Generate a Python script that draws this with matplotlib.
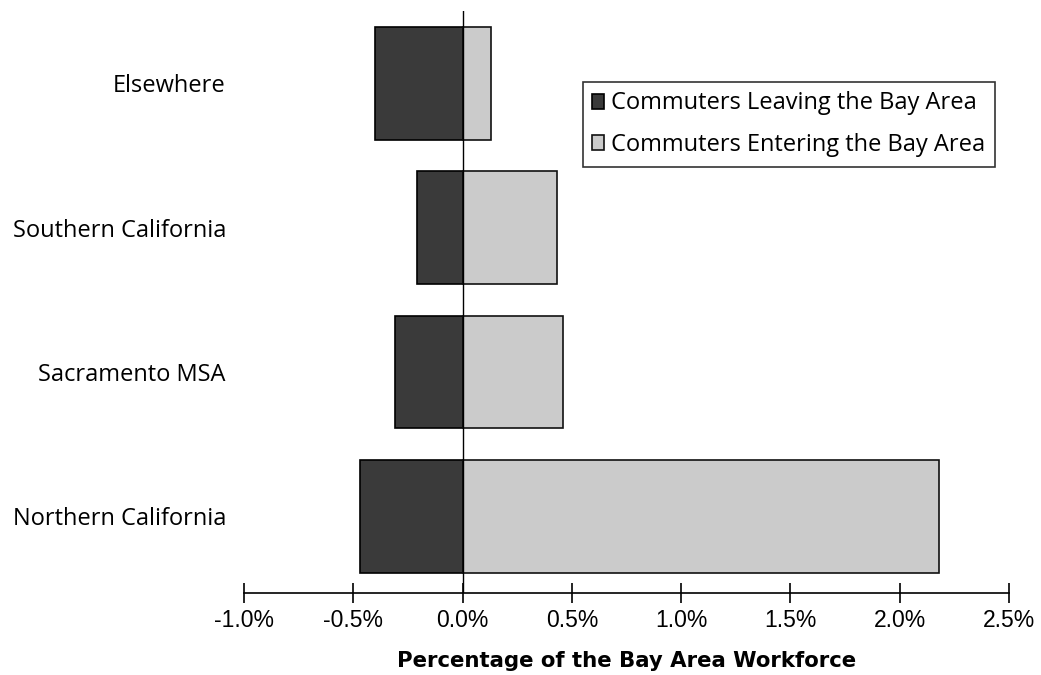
import matplotlib.pyplot as plt
import numpy as np

# data (percent of Bay Area workforce)
regions = ["Northern California", "Sacramento MSA", "Southern California", "Elsewhere"]
leaving = [-0.47, -0.31, -0.21, -0.40]
entering = [2.18, 0.46, 0.43, 0.13]
xticks = [-1.0, -0.5, 0.0, 0.5, 1.0, 1.5, 2.0, 2.5]

W, H = 1041, 675
fig = plt.figure(figsize=(W/100, H/100), dpi=100)
ax = fig.add_axes([244/W, 82/H, 765/W, 582/H])

y = np.arange(len(regions))
ax.barh(y, leaving, height=0.78, color="#3a3a3a", edgecolor="black", linewidth=1.2,
        label="Commuters Leaving the Bay Area", zorder=2)
ax.barh(y, entering, height=0.78, color="#cbcbcb", edgecolor="#111111", linewidth=1.2,
        label="Commuters Entering the Bay Area", zorder=2)

ax.axvline(0, color="black", linewidth=1.0, zorder=3)
ax.set_xlim(-1.0, 2.5)
ax.set_ylim(-0.53, 3.5)

for s in ["left", "right", "top"]:
    ax.spines[s].set_visible(False)
ax.spines["bottom"].set_linewidth(1.2)

ax.set_xticks(xticks)
ax.set_xticklabels([f"{v:.1f}%" for v in xticks], fontfamily="Liberation Sans", fontsize=16.5)
ax.tick_params(axis="x", direction="inout", length=15, width=1.2, pad=4)
ax.set_yticks(y)
ax.set_yticklabels(regions, fontfamily="Open Sans", fontsize=17)
ax.tick_params(axis="y", length=0, pad=13)

ax.set_xlabel("Percentage of the Bay Area Workforce", fontfamily="DejaVu Sans",
              fontweight="bold", fontsize=15.3, labelpad=14)

leg = ax.legend(loc="upper left", bbox_to_anchor=(583/W, 1 - 82/H), bbox_transform=fig.transFigure,
                prop={"family": "Open Sans", "size": 17}, frameon=True, fancybox=False,
                edgecolor="black", handlelength=0.5, handleheight=0.6, handletextpad=0.3,
                borderpad=0.4, labelspacing=0.75, borderaxespad=0)
leg.get_frame().set_linewidth(1.2)

fig.savefig("out.png", dpi=100)
